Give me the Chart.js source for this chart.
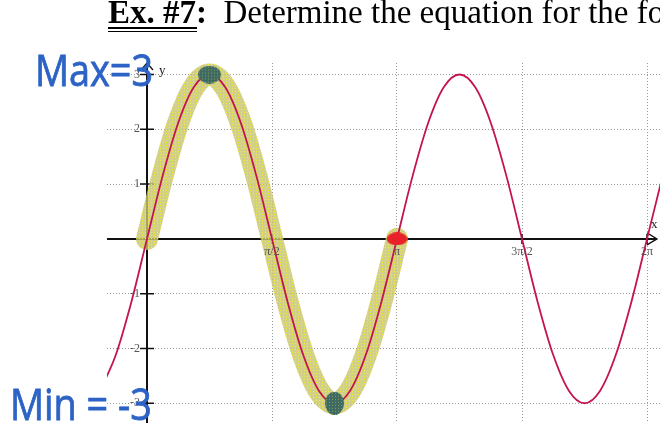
<!DOCTYPE html>
<html>
<head>
<meta charset="utf-8">
<script src="https://cdn.jsdelivr.net/npm/chart.js@4.4.0/dist/chart.umd.min.js"></script>
<style>
  html, body { margin: 0; padding: 0; background: #fff; }
  #wrap { position: relative; width: 660px; height: 423px; overflow: hidden; }
  #graph { position: absolute; left: 0; top: 0; }
  .title {
    position: absolute; left: 108px; top: -4px;
    font-family: 'Liberation Serif', 'Times New Roman', serif;
    font-size: 33px; line-height: 33px; white-space: pre; color: #000;
  }
  .uline { position: absolute; left: 108px; width: 89px; height: 1.5px; background: #000; }
  .hand {
    position: absolute; font-family: 'Open Sans', sans-serif;
    font-size: 44px; line-height: 44px; color: #2c63c5;
    -webkit-text-stroke: 0.8px #2c63c5; transform-origin: 0 0; white-space: pre;
  }
</style>
</head>
<body>
<div id="wrap">
  <canvas id="graph" width="660" height="423"></canvas>
  <div class="title"><b>Ex. #7:</b>  Determine the equation for the following graph.</div>
  <div class="uline" style="top:27px"></div>
  <div class="uline" style="top:30.5px"></div>
  <div class="hand" style="left:35px; top:47px; transform:scaleX(0.86)">Max=3</div>
  <div class="hand" style="left:10px; top:381px; transform:scaleX(0.86)">Min = -3</div>
</div>

<script>
// x positions are in multiples of pi
const xPi = [-0.1875, -0.125, -0.0625, 0, 0.0625, 0.125, 0.1875, 0.25, 0.3125, 0.375,
  0.4375, 0.5, 0.5625, 0.625, 0.6875, 0.75, 0.8125, 0.875, 0.9375, 1,
  1.0625, 1.125, 1.1875, 1.25, 1.3125, 1.375, 1.4375, 1.5, 1.5625, 1.625,
  1.6875, 1.75, 1.8125, 1.875, 1.9375, 2, 2.0625];
const yVals = [-2.77, -2.12, -1.15, 0, 1.15, 2.12, 2.77, 3, 2.77, 2.12,
  1.15, 0, -1.15, -2.12, -2.77, -3, -2.77, -2.12, -1.15, 0,
  1.15, 2.12, 2.77, 3, 2.77, 2.12, 1.15, 0, -1.15, -2.12,
  -2.77, -3, -2.77, -2.12, -1.15, 0, 1.15];

const xTicks = [0.5, 1, 1.5, 2];
const xTickLabels = ['π/2', 'π', '3π/2', '2π'];
const yTicks = [-3, -2, -1, 1, 2, 3];
const yTickLabels = ['-3', '-2', '-1', '1', '2', '3'];

// one period marked with the highlighter (x = 0 .. pi)
const hiStart = 3;
const hiEnd = 19;

// max / min dots and the root at pi
const markX = [0.25, 0.75];
const markY = [3, -3];
const rootX = [1];
const rootY = [0];

function toPoints(xs, ys) {
  return xs.map((v, i) => ({ x: v, y: ys[i] }));
}

// dotted highlighter texture
function makePattern(base, dot) {
  const c = document.createElement('canvas');
  c.width = 3; c.height = 3;
  const g = c.getContext('2d');
  g.fillStyle = base;
  g.fillRect(0, 0, 3, 3);
  g.fillStyle = dot;
  g.fillRect(1, 1, 1, 1);
  return g.createPattern(c, 'repeat');
}

// ellipse used as a point marker
function makeBlob(w, h, fill) {
  const c = document.createElement('canvas');
  c.width = w; c.height = h;
  const g = c.getContext('2d');
  g.fillStyle = fill;
  g.beginPath();
  g.ellipse(w / 2, h / 2, w / 2, h / 2, 0, 0, Math.PI * 2);
  g.fill();
  return c;
}

const bandFill = makePattern('rgba(200,198,110,0.82)', 'rgba(242,240,40,0.95)');
const dotFill = makePattern('#3e6a66', '#8f9f48');
const maxBlob = makeBlob(23, 18, dotFill);
const minBlob = makeBlob(19, 23, dotFill);
const rootBlob = makeBlob(21, 13, '#e8212b');

// axes through the origin, arrows and tick marks
const axesPlugin = {
  id: 'originAxes',
  beforeDatasetsDraw(chart) {
    const { ctx, chartArea, scales: { x, y } } = chart;
    const x0 = x.getPixelForValue(0);
    const y0 = y.getPixelForValue(0);
    ctx.save();
    ctx.strokeStyle = '#111';
    ctx.lineWidth = 2;
    ctx.beginPath();
    ctx.moveTo(chartArea.left, y0);
    ctx.lineTo(chartArea.right - 3, y0);
    ctx.moveTo(x0, chartArea.bottom);
    ctx.lineTo(x0, chartArea.top);
    ctx.stroke();

    // arrow heads
    ctx.lineWidth = 1.3;
    ctx.beginPath();
    ctx.moveTo(chartArea.right - 13, y0 - 6);
    ctx.lineTo(chartArea.right - 3, y0);
    ctx.lineTo(chartArea.right - 13, y0 + 6);
    ctx.moveTo(x0 - 6, chartArea.top + 7);
    ctx.lineTo(x0, chartArea.top);
    ctx.lineTo(x0 + 6, chartArea.top + 7);
    ctx.stroke();

    // tick marks
    ctx.lineWidth = 1.5;
    ctx.beginPath();
    yTicks.forEach(v => {
      const py = y.getPixelForValue(v);
      ctx.moveTo(x0 - 7, py);
      ctx.lineTo(x0 + 7, py);
    });
    xTicks.forEach(v => {
      const px = x.getPixelForValue(v);
      ctx.moveTo(px, y0 - 5);
      ctx.lineTo(px, y0 + 5);
    });
    ctx.stroke();
    ctx.restore();
  },
  // tick labels and axis names
  afterDatasetsDraw(chart) {
    const { ctx, chartArea, scales: { x, y } } = chart;
    const x0 = x.getPixelForValue(0);
    const y0 = y.getPixelForValue(0);
    ctx.save();
    ctx.fillStyle = '#555';
    ctx.font = "12px 'Liberation Serif', serif";
    ctx.textBaseline = 'middle';
    ctx.textAlign = 'right';
    yTicks.forEach((v, i) => {
      ctx.fillText(yTickLabels[i], x0 - 7, y.getPixelForValue(v));
    });
    ctx.textAlign = 'center';
    xTicks.forEach((v, i) => {
      ctx.fillText(xTickLabels[i], x.getPixelForValue(v), y0 + 13);
    });
    ctx.fillStyle = '#222';
    ctx.font = "13px 'Liberation Serif', serif";
    ctx.textAlign = 'left';
    ctx.fillText('y', x0 + 12, chartArea.top + 8);
    ctx.fillText('x', chartArea.right - 9, y0 - 14);
    ctx.restore();
  }
};

const ctx = document.getElementById('graph').getContext('2d');

new Chart(ctx, {
  type: 'line',
  data: {
    datasets: [
      {
        // max / min dots
        data: toPoints(markX, markY),
        showLine: false,
        pointStyle: [maxBlob, minBlob],
        order: 0
      },
      {
        data: toPoints(rootX, rootY),
        showLine: false,
        pointStyle: rootBlob,
        order: 0
      },
      {
        data: toPoints(xPi, yVals),
        borderColor: '#c4144e',
        borderWidth: 1.8,
        pointRadius: 0,
        cubicInterpolationMode: 'monotone',
        order: 1
      },
      {
        // highlighter stroke over one period
        data: toPoints(xPi.slice(hiStart, hiEnd + 1), yVals.slice(hiStart, hiEnd + 1)),
        borderColor: bandFill,
        borderWidth: 22,
        borderCapStyle: 'round',
        borderJoinStyle: 'round',
        pointRadius: 0,
        cubicInterpolationMode: 'monotone',
        clip: false,
        order: 2
      }
    ]
  },
  plugins: [axesPlugin],
  options: {
    responsive: false,
    animation: false,
    events: [],
    layout: { autoPadding: false, padding: { left: 107, top: 63, right: 0, bottom: 0 } },
    plugins: {
      legend: { display: false },
      tooltip: { enabled: false }
    },
    scales: {
      x: {
        type: 'linear',
        min: -0.16,
        max: 2.052,
        afterBuildTicks: scale => { scale.ticks = xTicks.map(v => ({ value: v })); },
        ticks: { display: false },
        grid: { color: '#9a9a9a', lineWidth: 1, drawTicks: false },
        border: { display: false, dash: [1, 2] }
      },
      y: {
        type: 'linear',
        min: -3.36,
        max: 3.21,
        afterBuildTicks: scale => { scale.ticks = yTicks.map(v => ({ value: v })); },
        ticks: { display: false },
        grid: { color: '#9a9a9a', lineWidth: 1, drawTicks: false },
        border: { display: false, dash: [1, 2] }
      }
    }
  }
});
</script>
</body>
</html>
